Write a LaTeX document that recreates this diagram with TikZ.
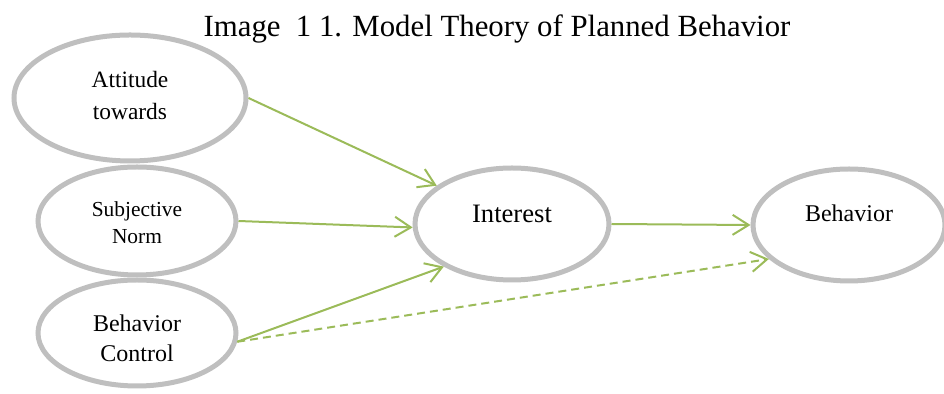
\documentclass[tikz,border=0pt]{standalone}
\usepackage{fontspec}
\setmainfont{Liberation Serif}
\usetikzlibrary{arrows.meta,shapes.geometric}
\definecolor{linkgreen}{RGB}{155,187,89}
\definecolor{ringgray}{RGB}{191,191,191}
\begin{document}
\begin{tikzpicture}[x=0.5pt, y=-0.5pt,
		factor/.style={ellipse, draw=ringgray, line width=2.5pt, inner sep=0pt},
		link/.style={draw=linkgreen, line width=1pt, -{Straight Barb[length=8pt,width=10pt]}}]
		\useasboundingbox (0,0) rectangle (944,394);

		\node[anchor=base, font=\fontsize{15.4}{18}\selectfont] (title) at (497,37) {Image\ \ 1 1. Model Theory of Planned Behavior};

		\node[factor, minimum width=116pt, minimum height=63pt,
			label={[name=atttext, align=center, font=\fontsize{11.7}{16}\selectfont, yshift=1pt]center:Attitude\\towards}] (att) at (130,98) {};
		\node[factor, minimum width=99pt, minimum height=54pt,
			label={[name=subtext, align=center, font=\fontsize{10.7}{13.5}\selectfont, yshift=-1pt]center:Subjective\\Norm}] (sub) at (137,221) {};
		\node[factor, minimum width=99pt, minimum height=53pt,
			label={[name=ctltext, align=center, font=\fontsize{12}{15}\selectfont, yshift=-2.5pt]center:Behavior\\Control}] (ctl) at (137,333) {};
		\node[factor, minimum width=97pt, minimum height=56pt,
			label={[name=inttext, font=\fontsize{13.3}{16}\selectfont, yshift=5pt]center:Interest}] (int) at (512,224) {};
		\node[factor, minimum width=96pt, minimum height=56pt,
			label={[name=behtext, font=\fontsize{12}{15}\selectfont, yshift=6pt]center:Behavior}] (beh) at (849,225) {};

		\draw[link] (att.east) -- (int.153);
		\draw[link] (sub.east) -- (int.182);
		\draw[link] (ctl.-5) -- (int.212);
		\draw[link] (int.east) -- (beh.west);
		\draw[link, dash pattern=on 4pt off 2.5pt] (ctl.-5) -- (beh.203);
	\end{tikzpicture}
\end{document}
